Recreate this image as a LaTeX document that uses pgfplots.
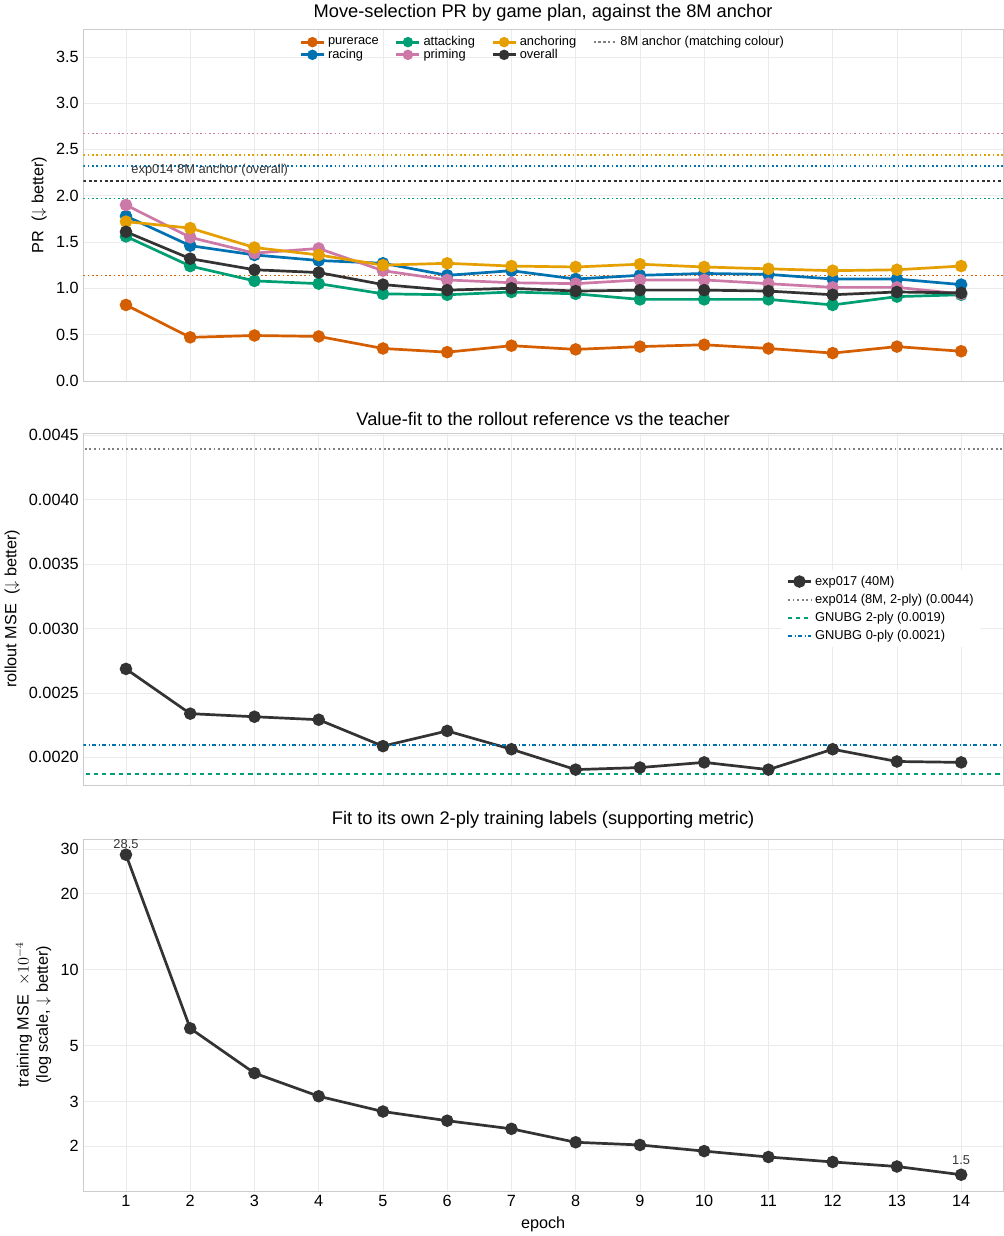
\documentclass[border=0pt]{standalone}
\usepackage{pgfplots}
\pgfplotsset{compat=1.18}
\usepackage{fontspec}
\setmainfont{Liberation Sans}
\definecolor{cpure}{HTML}{D55E00}
\definecolor{crace}{HTML}{0072B2}
\definecolor{catt}{HTML}{009E73}
\definecolor{canc}{HTML}{E69F00}
\definecolor{cpri}{HTML}{CC79A7}
\definecolor{cov}{HTML}{333333}
\definecolor{spine}{HTML}{CCCCCC}
\pgfplotsset{
 base/.style={scale only axis, width=679.5pt, height=260pt, xmin=0.337, xmax=14.65,
   xtick={1,...,14}, grid=major, major grid style={color=black!8},
   axis line style={spine}, tick style={draw=none},
   /pgf/number format/assume math mode=true,
   ticklabel style={font=\fontsize{12}{14}\selectfont},
   title style={font=\fontsize{13.5}{16}\selectfont, yshift=-4pt},
   label style={font=\fontsize{12}{14}\selectfont}},
 ser/.style={color=#1, line width=2pt, mark=*, mark size=3.6pt},
 lser/.style={color=#1, line width=2pt, mark=*, mark size=2.8pt},
 anc/.style={color=#1, dotted, line width=1.2pt, forget plot},
}
\begin{document}
\begin{tikzpicture}
\begin{axis}[base, at={(0,-288pt)}, anchor=south west,
  title={Move-selection PR by game plan, against the 8M anchor},
  ymin=0, ymax=3.8, ytick={0,0.5,...,3.5},
  yticklabel style={/pgf/number format/.cd, fixed, fixed zerofill, precision=1},
  xticklabels={}, ylabel={PR \ ($\downarrow$ better)},
  legend columns=4, legend style={draw=none, fill=none, at={(0.5,0.995)}, anchor=north, font=\fontsize{9.5}{11}\selectfont, /tikz/every even column/.append style={column sep=10pt}, row sep=-3pt},
  legend cell align=left]
\addlegendimage{lser=cpure}\addlegendentry{purerace}
\addlegendimage{lser=catt}\addlegendentry{attacking}
\addlegendimage{lser=canc}\addlegendentry{anchoring}
\addlegendimage{gray, dotted, line width=1.6pt}\addlegendentry{8M anchor (matching colour)}
\addlegendimage{lser=crace}\addlegendentry{racing}
\addlegendimage{lser=cpri}\addlegendentry{priming}
\addlegendimage{lser=cov}\addlegendentry{overall}
\addplot[anc=cpri] coordinates {(0,2.67) (15,2.67)};
\addplot[anc=canc] coordinates {(0,2.44) (15,2.44)};
\addplot[anc=crace] coordinates {(0,2.32) (15,2.32)};
\addplot[anc=catt] coordinates {(0,1.97) (15,1.97)};
\addplot[anc=cpure] coordinates {(0,1.14) (15,1.14)};
\addplot[cov, dotted, line width=2pt, forget plot] coordinates {(0,2.16) (15,2.16)};
\node[anchor=south west, font=\fontsize{9.5}{11}\selectfont, color=cov, inner sep=1pt] at (axis cs:1.06,2.19) {exp014 8M anchor (overall)};
\addplot[ser=cpure, forget plot] coordinates {(1,0.82)(2,0.47)(3,0.49)(4,0.48)(5,0.35)(6,0.31)(7,0.38)(8,0.34)(9,0.37)(10,0.39)(11,0.35)(12,0.30)(13,0.37)(14,0.32)};
\addplot[ser=crace, forget plot] coordinates {(1,1.78)(2,1.46)(3,1.36)(4,1.30)(5,1.27)(6,1.14)(7,1.19)(8,1.10)(9,1.14)(10,1.16)(11,1.15)(12,1.10)(13,1.10)(14,1.04)};
\addplot[ser=catt, forget plot] coordinates {(1,1.56)(2,1.24)(3,1.08)(4,1.05)(5,0.94)(6,0.93)(7,0.96)(8,0.94)(9,0.88)(10,0.88)(11,0.88)(12,0.82)(13,0.91)(14,0.93)};
\addplot[ser=cpri, forget plot] coordinates {(1,1.90)(2,1.55)(3,1.38)(4,1.43)(5,1.19)(6,1.09)(7,1.06)(8,1.05)(9,1.09)(10,1.09)(11,1.05)(12,1.01)(13,1.01)(14,0.94)};
\addplot[ser=canc, forget plot] coordinates {(1,1.72)(2,1.65)(3,1.44)(4,1.36)(5,1.25)(6,1.27)(7,1.24)(8,1.23)(9,1.26)(10,1.23)(11,1.21)(12,1.19)(13,1.20)(14,1.24)};
\addplot[ser=cov, forget plot] coordinates {(1,1.61)(2,1.32)(3,1.20)(4,1.17)(5,1.04)(6,0.98)(7,1.00)(8,0.97)(9,0.98)(10,0.98)(11,0.97)(12,0.93)(13,0.96)(14,0.95)};
\end{axis}
\begin{axis}[base, at={(0,-586.5pt)}, anchor=south west,
  title={Value-fit to the rollout reference vs the teacher},
  ymin=0.001787, ymax=0.004516, ytick={0.002,0.0025,0.003,0.0035,0.004,0.0045},
  yticklabel style={/pgf/number format/.cd, fixed, fixed zerofill, precision=4},
  scaled y ticks=false,
  xticklabels={}, ylabel={rollout MSE \ ($\downarrow$ better)},
  legend style={draw=none, fill=white, at={(0.76,0.61)}, anchor=north west, font=\fontsize{9.5}{11}\selectfont, row sep=1pt},
  legend cell align=left]
\addplot[ser=cov] coordinates {(1,0.002686)(2,0.002339)(3,0.002315)(4,0.002292)(5,0.002087)(6,0.002205)(7,0.002063)(8,0.001905)(9,0.001921)(10,0.001961)(11,0.001905)(12,0.002063)(13,0.001968)(14,0.001961)};
\addlegendentry{exp017 (40M)}
\addplot[gray, dotted, line width=1.4pt] coordinates {(0,0.00439)(15,0.00439)};
\addlegendentry{exp014 (8M, 2-ply) (0.0044)}
\addplot[catt, dashed, line width=1.4pt] coordinates {(0,0.001874)(15,0.001874)};
\addlegendentry{GNUBG 2-ply (0.0019)}
\addplot[crace, dash dot, line width=1.4pt] coordinates {(0,0.002095)(15,0.002095)};
\addlegendentry{GNUBG 0-ply (0.0021)}
\end{axis}
\begin{axis}[base, at={(0,-886.5pt)}, anchor=south west,
  title={Fit to its own 2-ply training labels (supporting metric)},
  title style={yshift=2pt},
  ymode=log, ymin=1.33, ymax=32.9, ytick={2,3,5,10,20,30}, yticklabels={2,3,5,10,20,30},
  xlabel={epoch},
  ylabel={\shortstack{training MSE \ $\times10^{-4}$\\(log scale, $\downarrow$ better)}}]
\addplot[ser=cov] coordinates {(1,28.5)(2,5.85)(3,3.89)(4,3.15)(5,2.74)(6,2.52)(7,2.34)(8,2.07)(9,2.02)(10,1.91)(11,1.81)(12,1.73)(13,1.66)(14,1.54)};
\node[above, font=\fontsize{9.5}{11}\selectfont, color=cov, yshift=1pt] at (axis cs:1,28.5) {28.5};
\node[above, font=\fontsize{9.5}{11}\selectfont, color=cov, yshift=4pt] at (axis cs:14,1.54) {1.5};
\end{axis}
\end{tikzpicture}
\end{document}
